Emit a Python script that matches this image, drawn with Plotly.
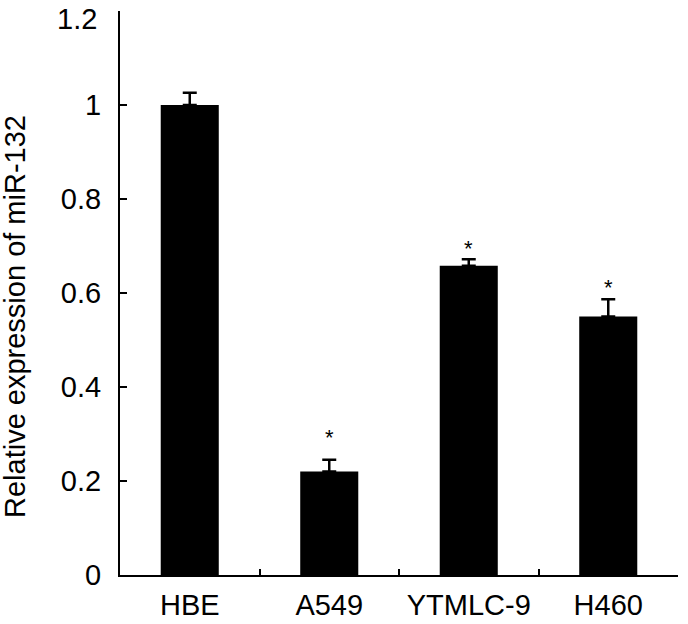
import plotly.graph_objects as go

categories = ["HBE", "A549", "YTMLC-9", "H460"]
values = [1.0, 0.22, 0.658, 0.55]
errors = [0.026, 0.025, 0.014, 0.037]
significant = [False, True, True, True]
star_shift = [0, 25, 14, 15]

y_tickvals = [0, 0.2, 0.4, 0.6, 0.8, 1.0, 1.2]
y_ticktext = ["0", "0.2", "0.4", "0.6", "0.8", "1", "1.2"]
y_title = "Relative expression of miR-132"

FONT = "Liberation Sans, Arial, Helvetica, sans-serif"
FS = 29

fig = go.Figure()
fig.add_trace(go.Bar(
    x=categories, y=values,
    marker=dict(color="black", line=dict(width=0)),
    error_y=dict(type="data", array=errors, arrayminus=[0] * len(errors),
                 symmetric=False, color="black", thickness=2.5, width=7),
))

for c, v, e, s, sh in zip(categories, values, errors, significant, star_shift):
    if s:
        fig.add_annotation(x=c, y=v + e, text="*", showarrow=False,
                           yanchor="middle", yshift=sh - 3,
                           font=dict(family=FONT, size=22, color="black"))

# top tick label is nudged down inside the figure, as in the reference
fig.add_annotation(xref="paper", yref="y", x=0, y=y_tickvals[-1],
                   text=y_ticktext[-1], showarrow=False,
                   xanchor="right", yanchor="top", xshift=-21, yshift=10,
                   font=dict(family=FONT, size=FS, color="black"))

fig.add_annotation(xref="paper", yref="paper", x=0, y=0.5, xshift=-105,
                   yshift=-24,
                   text=y_title, textangle=-90, showarrow=False,
                   xanchor="center", yanchor="middle",
                   font=dict(family=FONT, size=FS, color="black"))

fig.update_layout(
    width=688, height=624,
    margin=dict(l=120, r=10, t=11, b=49),
    plot_bgcolor="white", paper_bgcolor="white",
    bargap=0.584,
    showlegend=False,
    font=dict(family=FONT, size=FS, color="black"),
)
fig.update_xaxes(showline=True, linecolor="black", linewidth=2,
                 ticks="inside", tickson="boundaries", ticklen=6, tickwidth=2,
                 tickcolor="black", showgrid=False, zeroline=False,
                 ticklabelstandoff=3, automargin=False,
                 tickfont=dict(family=FONT, size=FS, color="black"))
fig.update_yaxes(range=[0, 1.2001], showline=True, linecolor="black", linewidth=2,
                 ticks="inside", ticklen=7, tickwidth=2, tickcolor="black",
                 tickvals=y_tickvals, ticktext=y_ticktext[:-1] + [""],
                 showgrid=False, zeroline=False, ticklabelstandoff=11,
                 ticklabeloverflow="allow", automargin=False,
                 tickfont=dict(family=FONT, size=FS, color="black"))

fig.write_html("out.html", config={"displayModeBar": False},
               post_script="document.body.style.margin='0';")
